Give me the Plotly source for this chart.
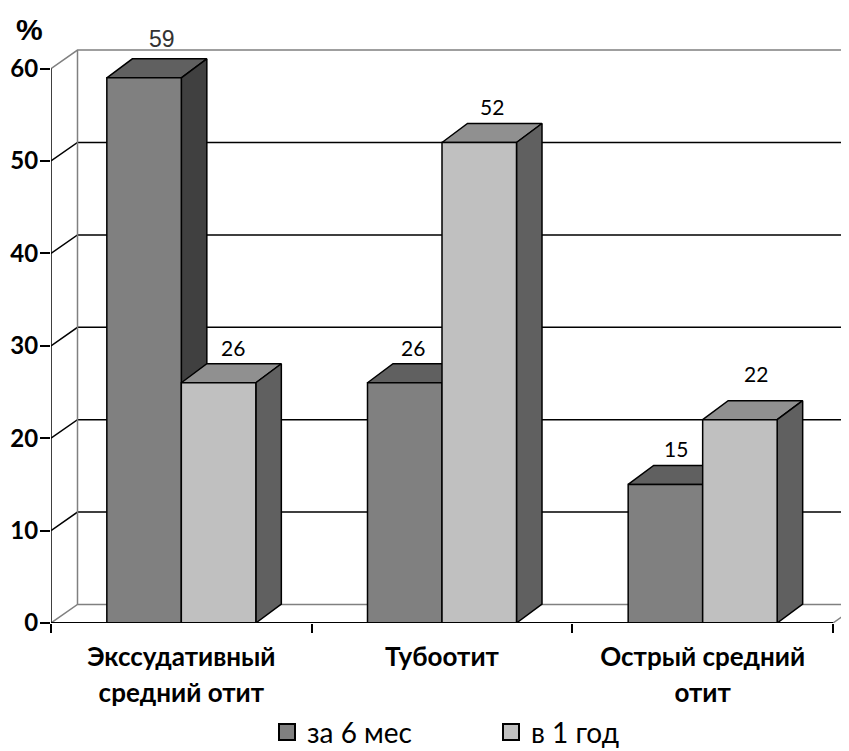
import plotly.graph_objects as go

categories = ["Экссудативный<br>средний отит", "Тубоотит", "Острый средний<br>отит"]
series_names = ["за 6 мес", "в 1 год"]
values_6m = [59, 26, 15]
values_1y = [26, 52, 22]
y_ticks = [0, 10, 20, 30, 40, 50, 60]

FRONT = ["#808080", "#C0C0C0"]
TOP = ["#606060", "#909090"]
SIDE = ["#404040", "#606060"]
LABEL_FONT = "Lato"

# the page body has an 8 px margin, so the figure sits 8 px in from the window corner
PAGE = 8
W, H = 849 - PAGE, 751 - PAGE
M_L = 51 - PAGE
M_B = 751 - 623
PLOT_W, PLOT_H = W - M_L, H - M_B

PX_X = 782 / 3          # pixels per category
PX_Y = 9.24             # pixels per percent
BAR_W = 74.5 / PX_X
BAR_DX, BAR_DY = 25.5 / PX_X, 19 / PX_Y
WALL_DX, WALL_DY = 26.5 / PX_X, 18.5 / PX_Y
X_MAX = PLOT_W / PX_X
Y_MAX = PLOT_H / PX_Y

fig = go.Figure()


def line(xs, ys, color="#000000", width=1.5):
    fig.add_trace(go.Scatter(x=xs, y=ys, mode="lines", line=dict(color=color, width=width),
                             hoverinfo="skip", showlegend=False, cliponaxis=False))


def face(xs, ys, fill):
    fig.add_trace(go.Scatter(x=xs + xs[:1], y=ys + ys[:1], mode="lines", fill="toself", fillcolor=fill,
                             line=dict(color="#000000", width=1.5), hoverinfo="skip", showlegend=False))


GREY = "#808080"
# walls and gridlines
for t in y_ticks:
    c = GREY if t in (0, 60) else "#000000"
    fig.add_trace(go.Scatter(x=[0, WALL_DX, X_MAX], y=[t, t + WALL_DY, t + WALL_DY], mode="lines",
                             line=dict(color=c, width=1.5), hoverinfo="skip", showlegend=False))
line([WALL_DX, WALL_DX], [WALL_DY, 60 + WALL_DY], GREY)
line([3, 3 + WALL_DX], [0, WALL_DY], GREY)
line([0, 0], [0, 60])

# bars
for g in range(3):
    left = g + 0.5 - BAR_W
    for s, vals in enumerate((values_6m, values_1y)):
        v = vals[g]
        x0 = left + s * BAR_W
        x1 = x0 + BAR_W
        face([x0, x0 + BAR_DX, x1 + BAR_DX, x1], [v, v + BAR_DY, v + BAR_DY, v], TOP[s])
        face([x1, x1 + BAR_DX, x1 + BAR_DX, x1], [0, BAR_DY, v + BAR_DY, v], SIDE[s])
        face([x0, x1, x1, x0], [0, 0, v, v], FRONT[s])

line([0, 3], [0, 0], width=2)

# legend entries
for s, name in enumerate(series_names):
    fig.add_trace(go.Scatter(x=[None], y=[None], mode="markers", name=name,
                             marker=dict(symbol="square", size=18, color=FRONT[s],
                                         line=dict(color="#000000", width=2))))

# value labels
label_shift_x = [[18, 14], [8, 13], [11, 16]]
label_shift_y = [[20, 16], [16, 17], [17, 27]]
annotations = []
for g in range(3):
    left = g + 0.5 - BAR_W
    for s, vals in enumerate((values_6m, values_1y)):
        v = vals[g]
        is_arial = g == 0 and s == 0
        annotations.append(dict(
            x=left + s * BAR_W + BAR_W / 2, y=v + BAR_DY, text=str(v), showarrow=False,
            xshift=label_shift_x[g][s], yshift=label_shift_y[g][s],
            font=dict(family="Liberation Sans" if is_arial else LABEL_FONT,
                      size=23 if is_arial else 21, color="#333333" if is_arial else "#000000"),
        ))
annotations.append(dict(xref="paper", yref="paper", x=(29 - 51) / PLOT_W, y=(PLOT_H - (30 - PAGE)) / PLOT_H,
                        xanchor="center", yanchor="middle",
                        text="<b>%</b>", showarrow=False,
                        font=dict(family="Liberation Sans", size=30, color="#000000")))

SPAN = "<span style='font-size:26px'><b>"
fig.update_layout(
    width=W, height=H, autosize=False,
    margin=dict(l=M_L, r=0, t=0, b=M_B, autoexpand=False),
    paper_bgcolor="#FFFFFF", plot_bgcolor="#FFFFFF",
    annotations=annotations,
    showlegend=True,
    legend=dict(orientation="h", x=216 / PLOT_W, xanchor="left", y=-0.137, yanchor="top",
                entrywidth=179, entrywidthmode="pixels", traceorder="normal",
                font=dict(family=LABEL_FONT, size=28, color="#000000"),
                bgcolor="rgba(0,0,0,0)"),
    xaxis=dict(range=[0, X_MAX], showgrid=False, zeroline=False, showline=False,
               tickmode="array", tickvals=[0.5, 1.5, 2.5],
               ticktext=[SPAN + c.replace("<br>", "</b></span><br>" + SPAN) + "</b></span>" for c in categories],
               ticks="", ticklabelstandoff=14,
               tickfont=dict(family=LABEL_FONT, size=28, color="#000000"),
               minor=dict(tickmode="array", tickvals=[0, 1, 2, 3], ticks="outside", ticklen=9,
                          tickwidth=1.5, tickcolor="#000000", showgrid=False)),
    yaxis=dict(range=[0, Y_MAX], showgrid=False, zeroline=False, showline=False,
               tickmode="array", tickvals=y_ticks, ticks="outside", ticklen=10, tickwidth=1.5,
               ticklabelstandoff=-3, tickcolor="#000000",
               tickfont=dict(family=LABEL_FONT, size=24, color="#000000", weight="bold")),
)

fig.write_html("out.html")
